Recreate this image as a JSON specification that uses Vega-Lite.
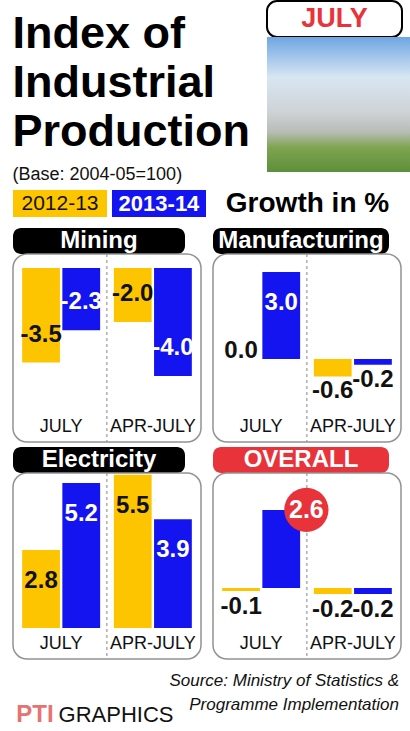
{
  "$schema": "https://vega.github.io/schema/vega-lite/v6.json",
  "background": "white",
  "padding": {"left": 12, "top": 0, "right": 0, "bottom": 0},
  "config": {
    "view": {"stroke": null},
    "font": "Liberation Sans, Arial, sans-serif"
  },
  "datasets": {
    "iip": [
      {"sector": "Mining", "period": "JULY", "year": "2012-13", "value": -3.5},
      {"sector": "Mining", "period": "JULY", "year": "2013-14", "value": -2.3},
      {"sector": "Mining", "period": "APR-JULY", "year": "2012-13", "value": -2.0},
      {"sector": "Mining", "period": "APR-JULY", "year": "2013-14", "value": -4.0},
      {"sector": "Manufacturing", "period": "JULY", "year": "2012-13", "value": 0.0},
      {"sector": "Manufacturing", "period": "JULY", "year": "2013-14", "value": 3.0},
      {"sector": "Manufacturing", "period": "APR-JULY", "year": "2012-13", "value": -0.6},
      {"sector": "Manufacturing", "period": "APR-JULY", "year": "2013-14", "value": -0.2},
      {"sector": "Electricity", "period": "JULY", "year": "2012-13", "value": 2.8},
      {"sector": "Electricity", "period": "JULY", "year": "2013-14", "value": 5.2},
      {"sector": "Electricity", "period": "APR-JULY", "year": "2012-13", "value": 5.5},
      {"sector": "Electricity", "period": "APR-JULY", "year": "2013-14", "value": 3.9},
      {"sector": "Overall", "period": "JULY", "year": "2012-13", "value": -0.1},
      {"sector": "Overall", "period": "JULY", "year": "2013-14", "value": 2.6},
      {"sector": "Overall", "period": "APR-JULY", "year": "2012-13", "value": -0.2},
      {"sector": "Overall", "period": "APR-JULY", "year": "2013-14", "value": -0.2}
    ]
  },
  "spacing": 10,
  "vconcat": [
    {
      "spacing": 6,
      "vconcat": [
        {
          "spacing": 13,
          "hconcat": [
            {
              "width": 240,
              "height": 1,
              "data": {"values": [{}]},
              "mark": {"type": "rule", "opacity": 0},
              "encoding": {},
              "title": {
                "text": ["Index of", "Industrial", "Production"],
                "subtitle": "(Base: 2004-05=100)",
                "orient": "bottom",
                "anchor": "start",
                "fontSize": 45,
                "lineHeight": 49,
                "fontWeight": "bold",
                "color": "#000000",
                "subtitleFontSize": 18,
                "subtitleColor": "#111111",
                "subtitlePadding": 11,
                "offset": 10
              }
            },
            {
              "spacing": 0,
              "bounds": "flush",
              "vconcat": [
                {
                  "width": 135,
                  "height": 36,
                  "view": {"stroke": "#000000", "strokeWidth": 2, "cornerRadius": 10, "fill": "white"},
                  "data": {"values": [{"t": "JULY"}]},
                  "mark": {"type": "text", "color": "#e8333a", "fontSize": 27, "fontWeight": "bold"},
                  "encoding": {"text": {"field": "t"}}
                },
                {
                  "width": 145,
                  "height": 135,
                  "view": {
                    "stroke": null,
                    "fill": {
                      "gradient": "linear", "x1": 0, "y1": 0, "x2": 0, "y2": 1,
                      "stops": [
                        {"offset": 0, "color": "#6ea6e3"},
                        {"offset": 0.3, "color": "#d8e6f2"},
                        {"offset": 0.55, "color": "#cfd3d6"},
                        {"offset": 0.7, "color": "#b9bdb8"},
                        {"offset": 0.82, "color": "#7ea451"},
                        {"offset": 1, "color": "#5e8f3a"}
                      ]
                    }
                  },
                  "data": {"values": [{}]},
                  "mark": {"type": "rule", "opacity": 0},
                  "encoding": {}
                }
              ]
            }
          ]
        },
        {
          "spacing": 10,
          "bounds": "flush",
          "hconcat": [
            {
              "width": 193,
              "height": 27,
              "data": {"values": [{"year": "2012-13"}, {"year": "2013-14"}]},
              "encoding": {"x": {"field": "year", "type": "nominal", "scale": {"paddingInner": 0.05, "paddingOuter": 0}, "axis": null}},
              "layer": [
                {
                  "mark": {"type": "rect"},
                  "encoding": {"color": {"field": "year", "type": "nominal", "scale": {"domain": ["2012-13", "2013-14"], "range": ["#FDC500", "#1414F0"]}, "legend": null}}
                },
                {
                  "transform": [{"filter": "datum.year == '2012-13'"}],
                  "mark": {"type": "text", "fontSize": 21, "color": "#111111"},
                  "encoding": {"text": {"field": "year"}}
                },
                {
                  "transform": [{"filter": "datum.year == '2013-14'"}],
                  "mark": {"type": "text", "fontSize": 22, "fontWeight": "bold", "color": "white"},
                  "encoding": {"text": {"field": "year"}}
                }
              ]
            },
            {
              "width": 183,
              "height": 28,
              "data": {"values": [{"t": "Growth in %"}]},
              "mark": {"type": "text", "fontSize": 28, "fontWeight": "bold", "color": "#000000"},
              "encoding": {"text": {"field": "t"}}
            }
          ]
        }
      ]
    },
    {
      "spacing": 3,
      "vconcat": [
        {
          "spacing": 10,
          "hconcat": [
            {
              "spacing": 0,
              "bounds": "flush",
              "vconcat": [
                {
                  "width": 172, "height": 26,
                  "view": {"fill": "#000000", "stroke": null, "cornerRadius": 8},
                  "data": {"values": [{"t": "Mining"}]},
                  "mark": {"type": "text", "color": "white", "fontSize": 24, "fontWeight": "bold"},
                  "encoding": {"text": {"field": "t"}}
                },
                {
                  "width": 188, "height": 188,
                  "view": {"stroke": "#939393", "strokeWidth": 1.5, "cornerRadius": 14},
                  "data": {"name": "iip"},
                  "transform": [
                    {"filter": "datum.sector == 'Mining'"},
                    {"calculate": "replace(format(datum.value, '.1f'), '\u2212', '-')", "as": "label"}
                  ],
                  "encoding": {
                    "x": {"field": "period", "type": "nominal", "sort": ["JULY", "APR-JULY"], "scale": {"paddingInner": 0.15, "paddingOuter": 0.1},
                      "axis": {"title": null, "orient": "bottom", "offset": -27, "domain": false, "ticks": false, "labelAngle": 0, "labelFontSize": 18, "labelPadding": 2, "labelColor": "#111111"}},
                    "y": {"field": "value", "type": "quantitative", "scale": {"domain": [-6.44, 0.52], "nice": false}, "axis": null}
                  },
                  "layer": [
                    {
                      "transform": [{"filter": "datum.year == '2012-13' && datum.period == 'APR-JULY'"}],
                      "mark": {"type": "rule", "color": "#9a9a9a", "strokeDash": [3, 3], "strokeWidth": 1.2},
                      "encoding": {"x": {"field": "period", "type": "nominal", "sort": ["JULY", "APR-JULY"], "bandPosition": -0.09}, "y": null}
                    },
                    {
                      "mark": {"type": "bar"},
                      "encoding": {
                        "xOffset": {"field": "year", "type": "nominal", "sort": ["2012-13", "2013-14"], "scale": {"paddingInner": 0.06, "paddingOuter": 0}},
                        "color": {"field": "year", "type": "nominal", "scale": {"domain": ["2012-13", "2013-14"], "range": ["#FDC500", "#1414F0"]}, "legend": null}
                      }
                    },
                    {
                      "mark": {"type": "text", "fontSize": 24, "fontWeight": "bold", "baseline": "middle", "dy": -28},
                      "encoding": {
                        "xOffset": {"field": "year", "type": "nominal", "sort": ["2012-13", "2013-14"], "scale": {"paddingInner": 0.06, "paddingOuter": 0}},
                        "text": {"field": "label"},
                        "color": {"condition": {"test": "datum.year == '2013-14'", "value": "white"}, "value": "#111111"}
                      }
                    }
                  ]
                }
              ]
            },
            {
              "spacing": 0,
              "bounds": "flush",
              "vconcat": [
                {
                  "width": 176, "height": 26,
                  "view": {"fill": "#000000", "stroke": null, "cornerRadius": 8},
                  "data": {"values": [{"t": "Manufacturing"}]},
                  "mark": {"type": "text", "color": "white", "fontSize": 24, "fontWeight": "bold"},
                  "encoding": {"text": {"field": "t"}}
                },
                {
                  "width": 188, "height": 188,
                  "view": {"stroke": "#939393", "strokeWidth": 1.5, "cornerRadius": 14},
                  "data": {"name": "iip"},
                  "transform": [
                    {"filter": "datum.sector == 'Manufacturing'"},
                    {"calculate": "replace(format(datum.value, '.1f'), '\u2212', '-')", "as": "label"}
                  ],
                  "encoding": {
                    "x": {"field": "period", "type": "nominal", "sort": ["JULY", "APR-JULY"], "scale": {"paddingInner": 0.15, "paddingOuter": 0.1},
                      "axis": {"title": null, "orient": "bottom", "offset": -27, "domain": false, "ticks": false, "labelAngle": 0, "labelFontSize": 18, "labelPadding": 2, "labelColor": "#111111"}},
                    "y": {"field": "value", "type": "quantitative", "scale": {"domain": [-2.86, 3.62], "nice": false}, "axis": null}
                  },
                  "layer": [
                    {
                      "transform": [{"filter": "datum.year == '2012-13' && datum.period == 'APR-JULY'"}],
                      "mark": {"type": "rule", "color": "#9a9a9a", "strokeDash": [3, 3], "strokeWidth": 1.2},
                      "encoding": {"x": {"field": "period", "type": "nominal", "sort": ["JULY", "APR-JULY"], "bandPosition": -0.09}, "y": null}
                    },
                    {
                      "mark": {"type": "bar"},
                      "encoding": {
                        "xOffset": {"field": "year", "type": "nominal", "sort": ["2012-13", "2013-14"], "scale": {"paddingInner": 0.06, "paddingOuter": 0}},
                        "color": {"field": "year", "type": "nominal", "scale": {"domain": ["2012-13", "2013-14"], "range": ["#FDC500", "#1414F0"]}, "legend": null}
                      }
                    },
                    {
                      "transform": [{"filter": "datum.value >= 1"}],
                      "mark": {"type": "text", "fontSize": 24, "fontWeight": "bold", "baseline": "middle", "dy": 31},
                      "encoding": {
                        "xOffset": {"field": "year", "type": "nominal", "sort": ["2012-13", "2013-14"], "scale": {"paddingInner": 0.06, "paddingOuter": 0}},
                        "text": {"field": "label"},
                        "color": {"condition": {"test": "datum.year == '2013-14'", "value": "white"}, "value": "#111111"}
                      }
                    },
                    {
                      "transform": [{"filter": "datum.value == 0"}],
                      "mark": {"type": "text", "fontSize": 24, "fontWeight": "bold", "baseline": "alphabetic", "dy": -1, "color": "#111111"},
                      "encoding": {
                        "xOffset": {"field": "year", "type": "nominal", "sort": ["2012-13", "2013-14"], "scale": {"paddingInner": 0.06, "paddingOuter": 0}},
                        "text": {"field": "label"}
                      }
                    },
                    {
                      "transform": [{"filter": "datum.value < 0"}],
                      "mark": {"type": "text", "fontSize": 24, "fontWeight": "bold", "baseline": "top", "dy": 3, "color": "#111111"},
                      "encoding": {
                        "xOffset": {"field": "year", "type": "nominal", "sort": ["2012-13", "2013-14"], "scale": {"paddingInner": 0.06, "paddingOuter": 0}},
                        "text": {"field": "label"}
                      }
                    }
                  ]
                }
              ]
            }
          ]
        },
        {
          "spacing": 10,
          "hconcat": [
            {
              "spacing": 0,
              "bounds": "flush",
              "vconcat": [
                {
                  "width": 172, "height": 26,
                  "view": {"fill": "#000000", "stroke": null, "cornerRadius": 8},
                  "data": {"values": [{"t": "Electricity"}]},
                  "mark": {"type": "text", "color": "white", "fontSize": 24, "fontWeight": "bold"},
                  "encoding": {"text": {"field": "t"}}
                },
                {
                  "width": 188, "height": 186,
                  "view": {"stroke": "#939393", "strokeWidth": 1.5, "cornerRadius": 14},
                  "data": {"name": "iip"},
                  "transform": [
                    {"filter": "datum.sector == 'Electricity'"},
                    {"calculate": "replace(format(datum.value, '.1f'), '\u2212', '-')", "as": "label"}
                  ],
                  "encoding": {
                    "x": {"field": "period", "type": "nominal", "sort": ["JULY", "APR-JULY"], "scale": {"paddingInner": 0.15, "paddingOuter": 0.1},
                      "axis": {"title": null, "orient": "bottom", "offset": -27, "domain": false, "ticks": false, "labelAngle": 0, "labelFontSize": 18, "labelPadding": 2, "labelColor": "#111111"}},
                    "y": {"field": "value", "type": "quantitative", "scale": {"domain": [-1.11, 5.56], "nice": false}, "axis": null}
                  },
                  "layer": [
                    {
                      "transform": [{"filter": "datum.year == '2012-13' && datum.period == 'APR-JULY'"}],
                      "mark": {"type": "rule", "color": "#9a9a9a", "strokeDash": [3, 3], "strokeWidth": 1.2},
                      "encoding": {"x": {"field": "period", "type": "nominal", "sort": ["JULY", "APR-JULY"], "bandPosition": -0.09}, "y": null}
                    },
                    {
                      "mark": {"type": "bar"},
                      "encoding": {
                        "xOffset": {"field": "year", "type": "nominal", "sort": ["2012-13", "2013-14"], "scale": {"paddingInner": 0.06, "paddingOuter": 0}},
                        "color": {"field": "year", "type": "nominal", "scale": {"domain": ["2012-13", "2013-14"], "range": ["#FDC500", "#1414F0"]}, "legend": null}
                      }
                    },
                    {
                      "mark": {"type": "text", "fontSize": 24, "fontWeight": "bold", "baseline": "middle", "dy": 31},
                      "encoding": {
                        "xOffset": {"field": "year", "type": "nominal", "sort": ["2012-13", "2013-14"], "scale": {"paddingInner": 0.06, "paddingOuter": 0}},
                        "text": {"field": "label"},
                        "color": {"condition": {"test": "datum.year == '2013-14'", "value": "white"}, "value": "#111111"}
                      }
                    }
                  ]
                }
              ]
            },
            {
              "spacing": 0,
              "bounds": "flush",
              "vconcat": [
                {
                  "width": 176, "height": 26,
                  "view": {"fill": "#e8333a", "stroke": null, "cornerRadius": 8},
                  "data": {"values": [{"t": "OVERALL"}]},
                  "mark": {"type": "text", "color": "white", "fontSize": 24, "fontWeight": "bold"},
                  "encoding": {"text": {"field": "t"}}
                },
                {
                  "width": 188, "height": 186,
                  "view": {"stroke": "#939393", "strokeWidth": 1.5, "cornerRadius": 14},
                  "data": {"name": "iip"},
                  "transform": [
                    {"filter": "datum.sector == 'Overall'"},
                    {"calculate": "replace(format(datum.value, '.1f'), '\u2212', '-')", "as": "label"}
                  ],
                  "encoding": {
                    "x": {"field": "period", "type": "nominal", "sort": ["JULY", "APR-JULY"], "scale": {"paddingInner": 0.15, "paddingOuter": 0.1},
                      "axis": {"title": null, "orient": "bottom", "offset": -27, "domain": false, "ticks": false, "labelAngle": 0, "labelFontSize": 18, "labelPadding": 2, "labelColor": "#111111"}},
                    "y": {"field": "value", "type": "quantitative", "scale": {"domain": [-2.37, 3.83], "nice": false}, "axis": null}
                  },
                  "layer": [
                    {
                      "transform": [{"filter": "datum.year == '2012-13' && datum.period == 'APR-JULY'"}],
                      "mark": {"type": "rule", "color": "#9a9a9a", "strokeDash": [3, 3], "strokeWidth": 1.2},
                      "encoding": {"x": {"field": "period", "type": "nominal", "sort": ["JULY", "APR-JULY"], "bandPosition": -0.09}, "y": null}
                    },
                    {
                      "mark": {"type": "bar"},
                      "encoding": {
                        "xOffset": {"field": "year", "type": "nominal", "sort": ["2012-13", "2013-14"], "scale": {"paddingInner": 0.06, "paddingOuter": 0}},
                        "color": {"field": "year", "type": "nominal", "scale": {"domain": ["2012-13", "2013-14"], "range": ["#FDC500", "#1414F0"]}, "legend": null}
                      }
                    },
                    {
                      "transform": [{"filter": "datum.value >= 1"}],
                      "mark": {"type": "circle", "size": 1960, "color": "#e8333a", "opacity": 1},
                      "encoding": {"x": {"field": "period", "type": "nominal", "sort": ["JULY", "APR-JULY"], "bandPosition": 1.08}}
                    },
                    {
                      "transform": [{"filter": "datum.value >= 1"}],
                      "mark": {"type": "text", "fontSize": 25, "fontWeight": "bold", "baseline": "middle", "color": "white"},
                      "encoding": {"x": {"field": "period", "type": "nominal", "sort": ["JULY", "APR-JULY"], "bandPosition": 1.08}, "text": {"field": "label"}}
                    },
                    {
                      "transform": [{"filter": "datum.value < 0"}],
                      "mark": {"type": "text", "fontSize": 24, "fontWeight": "bold", "baseline": "top", "dy": 4, "color": "#111111"},
                      "encoding": {
                        "xOffset": {"field": "year", "type": "nominal", "sort": ["2012-13", "2013-14"], "scale": {"paddingInner": 0.06, "paddingOuter": 0}},
                        "text": {"field": "label"}
                      }
                    }
                  ]
                }
              ]
            }
          ]
        }
      ]
    },
    {
      "spacing": 4,
      "bounds": "flush",
      "hconcat": [
        {
          "width": 44, "height": 61,
          "data": {"values": [{"t": "PTI"}]},
          "mark": {"type": "text", "fontSize": 24, "fontWeight": "bold", "color": "#e0504f", "opacity": 0.8, "baseline": "top"},
          "encoding": {"text": {"field": "t"}}
        },
        {
          "width": 110, "height": 61,
          "data": {"values": [{"t": "GRAPHICS"}]},
          "mark": {"type": "text", "fontSize": 22, "color": "#111111", "baseline": "top", "dy": 2},
          "encoding": {"text": {"field": "t"}}
        },
        {
          "width": 224, "height": 61,
          "data": {"values": [{"t": "Source"}]},
          "mark": {"type": "text", "fontSize": 17, "fontStyle": "italic", "color": "#111111", "align": "right", "baseline": "top", "lineHeight": 24, "dy": -30},
          "encoding": {"x": {"value": "width"}, "text": {"value": ["Source: Ministry of Statistics &", "Programme Implementation"]}}
        }
      ]
    }
  ]
}
